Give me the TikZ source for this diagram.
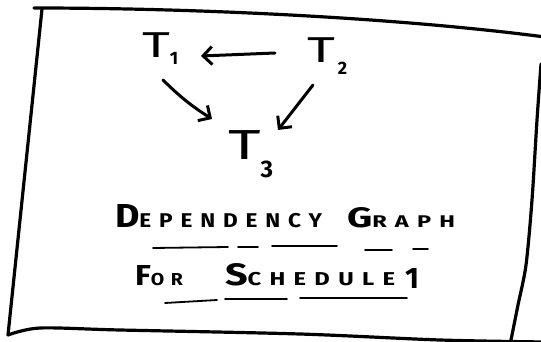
\documentclass[tikz,border=0pt]{standalone}
\usepackage{fontspec}
\usepackage{graphicx}
\setmainfont{Fira Sans}
\newfontfamily\handfont[LetterSpace=35]{Fira Sans}
\usetikzlibrary{arrows.meta}
% T with a lowered subscript: #1 digit, #2 kern, #3 lowering, #4 digit size
\newcommand\Tlab[4]{\scalebox{1.5}[1]{T}\kern#2\raisebox{#3}{\fontsize{#4}{#4}\selectfont\bfseries #1}}
\newcommand\BigLet[1]{{\fontsize{20}{20}\selectfont #1}}
\newcommand\SmlLet[1]{{\fontsize{12}{12}\selectfont #1}}
\begin{document}
\begin{tikzpicture}[x=1pt,y=-1pt,
  frame/.style={line width=3.2pt, line cap=round, line join=round},
  tnode/.style={inner sep=0pt, outer sep=0pt, anchor=base west,
    font=\fontsize{36}{36}\selectfont\mdseries},
  conn/.style={line width=3pt, line cap=round, line join=round,
    -{Straight Barb[length=9pt,width=18pt]}},
  uline/.style={line width=1.8pt, line cap=round},
  title/.style={inner sep=0pt, outer sep=0pt, anchor=base west,
    font=\handfont\bfseries}]
\useasboundingbox (0,0) rectangle (541,342);
\fill[white] (0,0) rectangle (541,342);
% frame
\draw[frame] (34,8) .. controls (200,8) and (400,18) .. (545,37);
\draw[frame] (42,9) -- (8,335);
\draw[frame] plot[smooth] coordinates {(8,335) (40,328) (120,330) (300,334) (440,340) (545,342)};
\draw[frame] plot[smooth] coordinates {(541,64) (537,120) (532,200) (526,265) (518,305) (510,345)};
% nodes
\node[tnode] (t1) at (142,58) {\Tlab{1}{0pt}{-7pt}{18}};
\node[tnode] (t2) at (307,63) {\Tlab{2}{3pt}{-12pt}{18}};
\node[tnode, font=\fontsize{42}{42}\selectfont\mdseries] (t3) at (228,160) {\Tlab{3}{0pt}{-18pt}{24}};
% connectors
\draw[conn] ([shift={(-32,-10)}]t2.base west) -- ([shift={(59,-2)}]t1.base west);
\draw[conn] ([shift={(21,22)}]t1.base west) to[bend right=6] ([shift={(-16,-41)}]t3.base west);
\draw[conn] ([shift={(6,22)}]t2.base west) -- ([shift={(50,-30)}]t3.base west);
% titles
\node[title] (l1) at (115,228) {\resizebox{207pt}{23pt}{\BigLet{D}\SmlLet{EPENDENCY}}\hspace{25pt}\resizebox{108pt}{20pt}{\BigLet{G}\SmlLet{RAPH}}};
\node[title] (l2) at (135,285) {\resizebox{48pt}{20pt}{\BigLet{F}\SmlLet{OR}}\hspace{42pt}\resizebox{170pt}{22pt}{\BigLet{S}\SmlLet{CHEDULE}}\hspace{10pt}\raisebox{-3pt}{\resizebox{14pt}{20pt}{\BigLet{1}}}};
% underlines
\draw[uline] (153,248) -- (228,247);
\draw[uline] (238,247) -- (258,247);
\draw[uline] (272,246) -- (337,246);
\draw[uline] (365,250) -- (392,250);
\draw[uline] (413,249) -- (428,249);
\draw[uline] (165,303) -- (217,300);
\draw[uline] (225,299) -- (287,299);
\draw[uline] (300,298) -- (407,298);
\end{tikzpicture}
\end{document}
